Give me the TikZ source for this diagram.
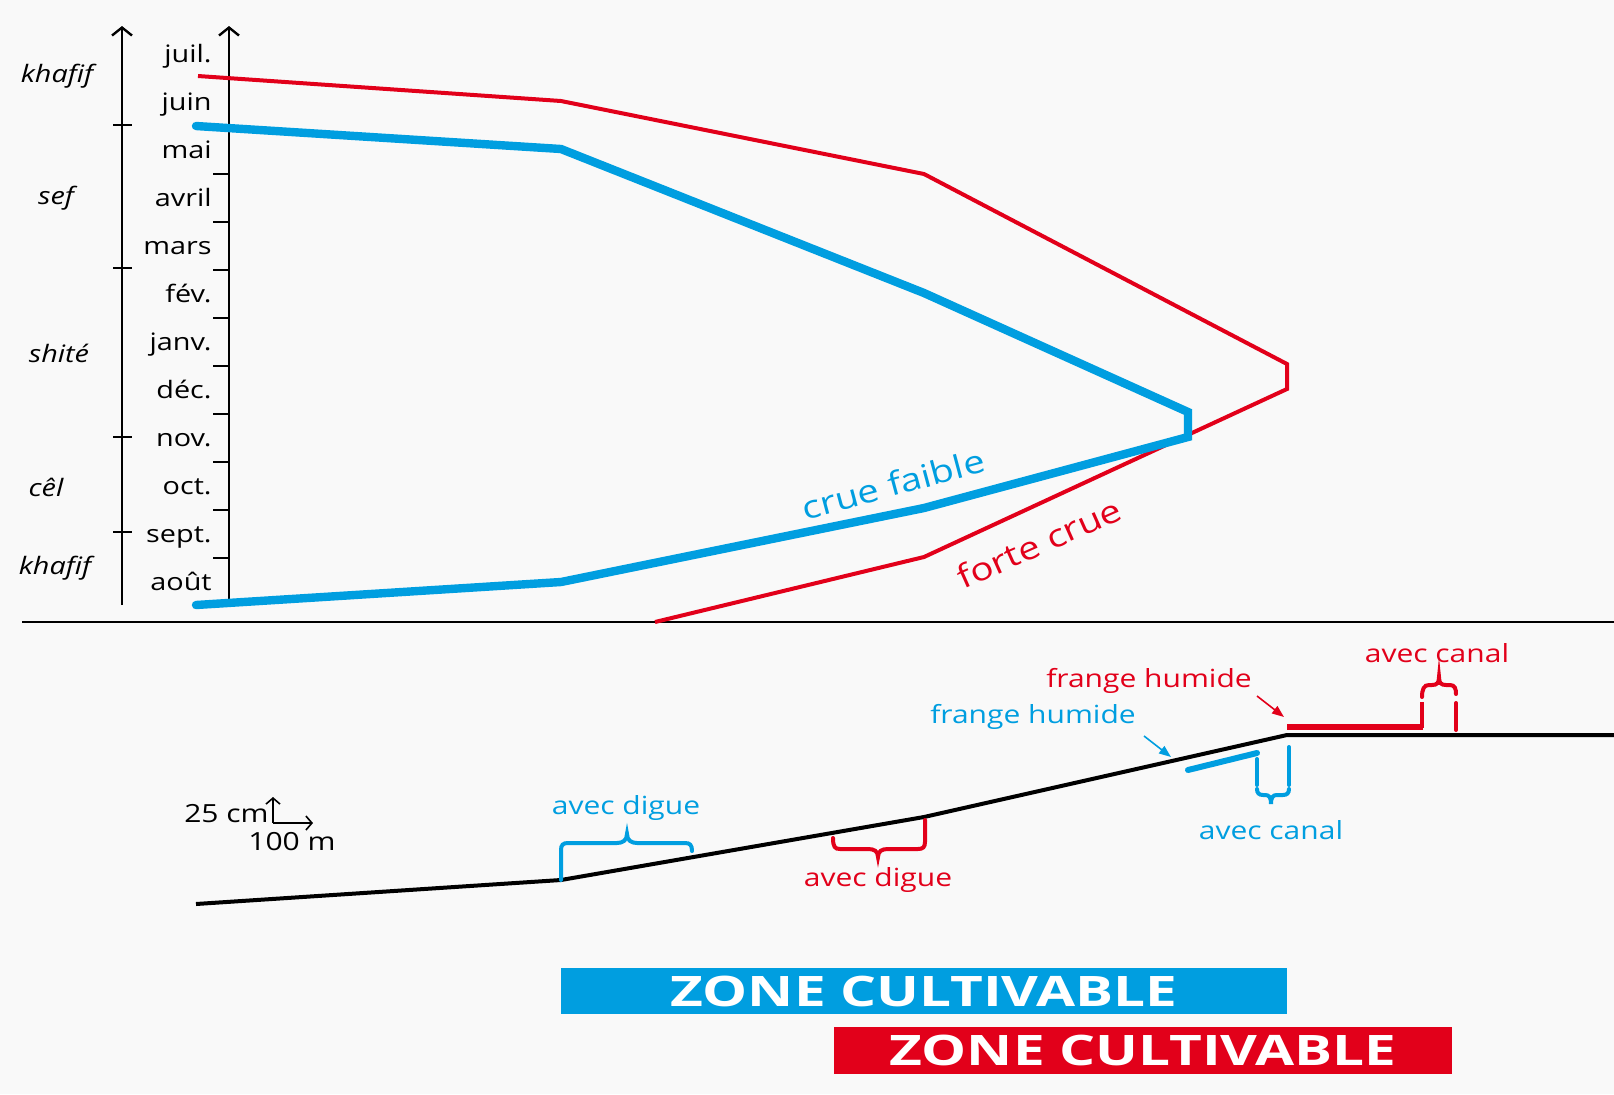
\documentclass[tikz,border=0pt]{standalone}
\usepackage{fontspec}
\setmainfont[FakeStretch=1.2]{Open Sans}
\newfontfamily\zonefont[FakeStretch=1.35]{Open Sans}
\usetikzlibrary{arrows.meta}
\definecolor{cblue}{RGB}{0,158,224}
\definecolor{cred}{RGB}{226,0,26}
\definecolor{bgc}{RGB}{249,249,249}
\begin{document}
\begin{tikzpicture}[x=0.5pt,y=-0.5pt,
  axisline/.style={line width=1.2pt,-{Straight Barb[length=4pt,width=10pt]}},
  tickline/.style={line width=1.1pt},
  monthlbl/.style={anchor=base east,inner sep=0pt,font=\fontsize{12}{14}\selectfont},
  seasonlbl/.style={inner sep=0pt,font=\fontsize{12}{14}\selectfont\itshape},
  redcurve/.style={cred,line width=2pt},
  bluecurve/.style={cblue,line width=4.2pt,line cap=round},
  groundline/.style={black,line width=2pt},
  smalllbl/.style={inner sep=0pt,font=\fontsize{12.5}{15}\selectfont},
  bracepath/.style={line width=2pt,line cap=round},
  pointer/.style={line width=0.8pt,-{Triangle[length=6pt,width=4.5pt]}},
  scalearrow/.style={line width=0.8pt,-{Straight Barb[length=3pt,width=7pt]}},
  zonebox/.style={inner sep=0pt,text=white,font=\zonefont\bfseries\fontsize{21}{24}\selectfont},
]
\fill[bgc] (0,0) rectangle (1614,1094);
\useasboundingbox (0,0) rectangle (1614,1094);

% ---- axes ----
\draw[axisline] (122,605) -- (122,26);
\draw[axisline] (229,600) -- (229,26);
\foreach \k in {0,...,10} \draw[tickline] (213,{78+48*\k}) -- (229,{78+48*\k});
\foreach \t in {125,268,437,532} \draw[tickline] (113,\t) -- (132,\t);

\foreach \m [count=\i from 0] in {juil.,juin,mai,avril,mars,fév.,janv.,déc.,nov.,oct.,sept.,août}
  \node[monthlbl] (m\i) at (212,{62+48*\i}) {\m};

\node[seasonlbl] (s1) at (57,76) {khafif};
\node[seasonlbl] (s2) at (56,198) {sef};
\node[seasonlbl] (s3) at (59,353) {shité};
\node[seasonlbl] (s4) at (46,487) {cêl};
\node[seasonlbl] (s5) at (55,568) {khafif};

% ---- separator ----
\draw[line width=1pt] (22,622) -- (1614,622);

% ---- flood curves ----
\draw[redcurve] (198,76) -- (561,101) -- (924,174) -- (1287,364) -- (1287,389) -- (924,557) -- (655,622);
\draw[bluecurve] (196,126) -- (561,149) -- (924,293) -- (1188,412) -- (1188,437) -- (924,508) -- (561,582) -- (196,605);

\node[cblue,inner sep=0pt,rotate=15,font=\fontsize{16}{18}\selectfont] (cf) at (893,484) {crue faible};
\node[cred,inner sep=0pt,rotate=24,font=\fontsize{16}{18}\selectfont] (fc) at (1039,543) {forte crue};

% ---- ground profile ----
\draw[groundline] (196,904) -- (561,880) -- (924,817) -- (1287,735) -- (1614,735);

% scale
\coordinate (sc) at (273,823);
\draw[scalearrow] (sc) -- (273,797);
\draw[scalearrow] (sc) -- (313,823);
\node[smalllbl,anchor=base east] (l25) at (269,822) {25 cm};
\node[smalllbl,anchor=base] (l100) at (292,850) {100 m};

% blue "avec digue"
\draw[bracepath,cblue] (561,880) -- (561,850) .. controls (561,845) and (563,843) .. (568,843) -- (617,843)
  .. controls (623,843) and (627,840) .. (627,834) .. controls (627,840) and (631,843) .. (637,843)
  -- (685,843) .. controls (690,843) and (692,845) .. (692,851);
\node[smalllbl,cblue] (bd) at (626,808) {avec digue};

% red "avec digue"
\draw[bracepath,cred] (925,820) -- (925,842) .. controls (925,847) and (923,849) .. (918,849) -- (888,849)
  .. controls (882,849) and (878,851) .. (878,857) .. controls (878,851) and (874,849) .. (868,849)
  -- (840,849) .. controls (835,849) and (833,847) .. (833,838);
\node[smalllbl,cred] (rd) at (878,880) {avec digue};

% blue frange humide + canal
\draw[cblue,line width=3pt,line cap=round] (1188,770) -- (1257,753);
\node[smalllbl,cblue] (bfh) at (1033,717) {frange humide};
\coordinate (bpa) at (1144,736);
\coordinate (bpb) at (1171,757);
\draw[pointer,cblue] (bpa) -- (bpb);
\draw[bracepath,cblue] (1257,759) -- (1257,785);
\draw[bracepath,cblue] (1289,747) -- (1289,785);
\draw[bracepath,cblue] (1257,789) .. controls (1257,793) and (1259,795) .. (1263,795) -- (1265,795)
  .. controls (1269,795) and (1271,797) .. (1271,804) .. controls (1271,797) and (1273,795) .. (1277,795)
  -- (1283,795) .. controls (1287,795) and (1289,793) .. (1289,789);
\node[smalllbl,cblue] (bc) at (1271,830) {avec canal};

% red frange humide + canal
\draw[cred,line width=3pt] (1287,727) -- (1423,727);
\draw[bracepath,cred,line cap=butt] (1422,728) -- (1422,702);
\draw[bracepath,cred] (1456,703) -- (1456,730);
\draw[bracepath,cred] (1422,697) .. controls (1422,689) and (1424,685) .. (1429,685) -- (1432,685)
  .. controls (1437,685) and (1439,683) .. (1439,677) .. controls (1439,683) and (1441,685) .. (1446,685)
  -- (1450,685) .. controls (1455,685) and (1456,689) .. (1456,694);
\node[smalllbl,cred] (rfh) at (1149,681) {frange humide};
\coordinate (rpa) at (1257,696);
\coordinate (rpb) at (1284,717);
\draw[pointer,cred] (rpa) -- (rpb);
\node[smalllbl,cred] (rc) at (1437,653) {avec canal};

% ---- zone boxes ----
\node[zonebox,fill=cblue,minimum width=363pt,minimum height=23pt] (zb) at (924,991) {ZONE CULTIVABLE};
\node[zonebox,fill=cred,minimum width=309pt,minimum height=23.5pt] (zr) at (1143,1050.5) {ZONE CULTIVABLE};
\end{tikzpicture}
\end{document}
